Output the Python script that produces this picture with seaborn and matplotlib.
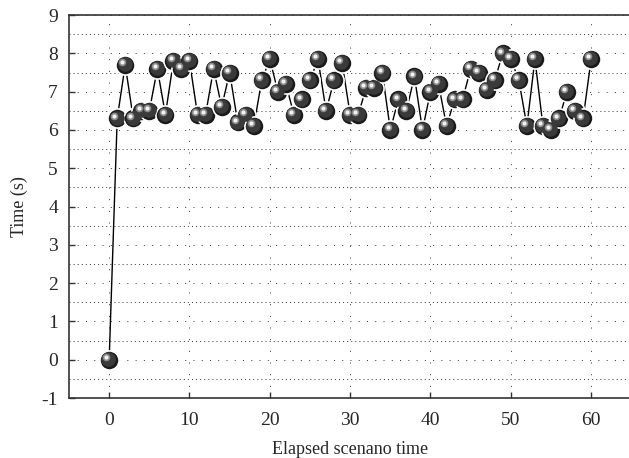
import matplotlib
matplotlib.use("Agg")
import matplotlib.pyplot as plt
import matplotlib.transforms as mtransforms
import numpy as np
import pandas as pd
import seaborn as sns

# elapsed scenario step and measured time (s)
steps = list(range(0, 61))
times = [
    0.0, 6.3, 7.7, 6.3, 6.5, 6.5, 7.6, 6.4, 7.8, 7.6,
    7.8, 6.4, 6.4, 7.6, 6.6, 7.5, 6.2, 6.4, 6.1, 7.3,
    7.85, 7.0, 7.2, 6.4, 6.8, 7.3, 7.85, 6.5, 7.3, 7.75,
    6.4, 6.4, 7.1, 7.1, 7.5, 6.0, 6.8, 6.5, 7.4, 6.0,
    7.0, 7.2, 6.1, 6.8, 6.8, 7.6, 7.5, 7.05, 7.3, 8.0,
    7.85, 7.3, 6.1, 7.85, 6.1, 6.0, 6.3, 7.0, 6.5, 6.3,
    7.85,
]
x_ticks = [0, 10, 20, 30, 40, 50, 60]
y_ticks = [-1, 0, 1, 2, 3, 4, 5, 6, 7, 8, 9]

df = pd.DataFrame({"step": steps, "time": times})

sns.set_theme(style="white")
plt.rcParams["font.family"] = ["Liberation Serif", "DejaVu Serif"]

fig = plt.figure(figsize=(6.29, 4.58), dpi=100)
ax = fig.add_axes([0.1097, 0.131, 0.894, 0.836])

# grid: sparse dots on integers, dense dots on half steps
for v in y_ticks:
    ax.axhline(v, color="#333333", lw=0.7, ls=(0, (1, 7.5)), zorder=0)
for v in np.arange(-0.5, 9, 1.0):
    ax.axhline(v, color="#333333", lw=0.7, ls=(0, (1, 3.2)), zorder=0)
for v in x_ticks:
    ax.axvline(v, color="#333333", lw=0.7, ls=(0, (1, 11)), zorder=0)

sns.lineplot(data=df, x="step", y="time", ax=ax, color="black", lw=1.0,
             zorder=2, legend=False)

# sphere-like markers: dark body + offset highlights
sns.scatterplot(data=df, x="step", y="time", ax=ax, s=190, color="#1a1a1a",
                edgecolor="white", linewidth=1.2, zorder=3, legend=False)
sns.scatterplot(data=df, x="step", y="time", ax=ax, s=110, color="#3a3a3a",
                linewidth=0, zorder=4, legend=False,
                transform=ax.transData + mtransforms.ScaledTranslation(-0.5 / 72, 0.5 / 72, fig.dpi_scale_trans))
hl = mtransforms.ScaledTranslation(-2.0 / 72, 2.0 / 72, fig.dpi_scale_trans)
sns.scatterplot(data=df, x="step", y="time", ax=ax, s=30, color="#8a8a8a",
                linewidth=0, zorder=5, legend=False, transform=ax.transData + hl)
sns.scatterplot(data=df, x="step", y="time", ax=ax, s=9, color="#f2f2f2",
                linewidth=0, zorder=6, legend=False, transform=ax.transData + hl)

ax.set_xlim(-5, 65)
ax.set_ylim(-1, 9)
ax.set_xticks(x_ticks)
ax.set_yticks(y_ticks)
ax.set_yticklabels([str(v) for v in y_ticks])
ax.tick_params(direction="in", length=4, width=1, color="#333333",
               labelsize=14, pad=8, left=True, bottom=True)
ax.tick_params(axis="x", pad=10)
ax.set_xlabel("Elapsed scenano time", fontsize=13, labelpad=9)
ax.set_ylabel("Time (s)", fontsize=13, labelpad=10)

for side in ["left", "bottom", "top"]:
    ax.spines[side].set_color("#333333")
    ax.spines[side].set_linewidth(1.2)
ax.spines["right"].set_visible(False)

fig.savefig("out.png", dpi=100)
